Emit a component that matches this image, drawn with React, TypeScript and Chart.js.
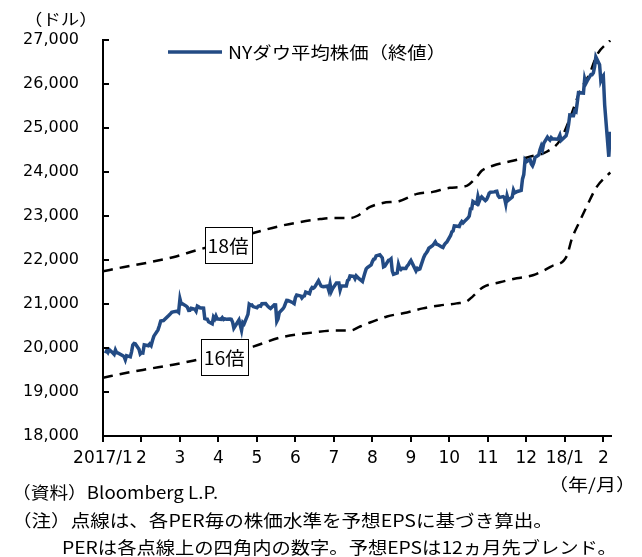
import React, { useEffect, useRef } from "react";
import { Chart, registerables } from "chart.js";

Chart.register(...registerables);

// ---------- data ----------
const monthTicks = ["2017/1", "2", "3", "4", "5", "6", "7", "8", "9", "10", "11", "12", "18/1", "2"];
const yTickValues = [18000, 19000, 20000, 21000, 22000, 23000, 24000, 25000, 26000, 27000];

const dowDates = [
  "2017-01-03","2017-01-04","2017-01-05","2017-01-06","2017-01-09","2017-01-10","2017-01-11","2017-01-12","2017-01-13","2017-01-17",
  "2017-01-18","2017-01-19","2017-01-20","2017-01-23","2017-01-24","2017-01-25","2017-01-26","2017-01-27","2017-01-30","2017-01-31",
  "2017-02-01","2017-02-02","2017-02-03","2017-02-06","2017-02-07","2017-02-08","2017-02-09","2017-02-10","2017-02-13","2017-02-14",
  "2017-02-15","2017-02-16","2017-02-17","2017-02-21","2017-02-22","2017-02-23","2017-02-24","2017-02-27","2017-02-28",
  "2017-03-01","2017-03-02","2017-03-03","2017-03-06","2017-03-07","2017-03-08","2017-03-09","2017-03-10","2017-03-13","2017-03-14",
  "2017-03-15","2017-03-16","2017-03-17","2017-03-20","2017-03-21","2017-03-22","2017-03-23","2017-03-24","2017-03-27","2017-03-28",
  "2017-03-29","2017-03-30","2017-03-31",
  "2017-04-03","2017-04-04","2017-04-05","2017-04-06","2017-04-07","2017-04-10","2017-04-11","2017-04-12","2017-04-13","2017-04-17",
  "2017-04-18","2017-04-19","2017-04-20","2017-04-21","2017-04-24","2017-04-25","2017-04-26","2017-04-27","2017-04-28",
  "2017-05-01","2017-05-02","2017-05-03","2017-05-04","2017-05-05","2017-05-08","2017-05-09","2017-05-10","2017-05-11","2017-05-12",
  "2017-05-15","2017-05-16","2017-05-17","2017-05-18","2017-05-19","2017-05-22","2017-05-23","2017-05-24","2017-05-25","2017-05-26",
  "2017-05-30","2017-05-31",
  "2017-06-01","2017-06-02","2017-06-05","2017-06-06","2017-06-07","2017-06-08","2017-06-09","2017-06-12","2017-06-13","2017-06-14",
  "2017-06-15","2017-06-16","2017-06-19","2017-06-20","2017-06-21","2017-06-22","2017-06-23","2017-06-26","2017-06-27","2017-06-28",
  "2017-06-29","2017-06-30",
  "2017-07-03","2017-07-05","2017-07-06","2017-07-07","2017-07-10","2017-07-11","2017-07-12","2017-07-13","2017-07-14","2017-07-17",
  "2017-07-18","2017-07-19","2017-07-20","2017-07-21","2017-07-24","2017-07-25","2017-07-26","2017-07-27","2017-07-28","2017-07-31",
  "2017-08-01","2017-08-02","2017-08-03","2017-08-04","2017-08-07","2017-08-08","2017-08-09","2017-08-10","2017-08-11","2017-08-14",
  "2017-08-15","2017-08-16","2017-08-17","2017-08-18","2017-08-21","2017-08-22","2017-08-23","2017-08-24","2017-08-25","2017-08-28",
  "2017-08-29","2017-08-30","2017-08-31",
  "2017-09-01","2017-09-05","2017-09-06","2017-09-07","2017-09-08","2017-09-11","2017-09-12","2017-09-13","2017-09-14","2017-09-15",
  "2017-09-18","2017-09-19","2017-09-20","2017-09-21","2017-09-22","2017-09-25","2017-09-26","2017-09-27","2017-09-28","2017-09-29",
  "2017-10-02","2017-10-03","2017-10-04","2017-10-05","2017-10-06","2017-10-09","2017-10-10","2017-10-11","2017-10-12","2017-10-13",
  "2017-10-16","2017-10-17","2017-10-18","2017-10-19","2017-10-20","2017-10-23","2017-10-24","2017-10-25","2017-10-26","2017-10-27",
  "2017-10-30","2017-10-31",
  "2017-11-01","2017-11-02","2017-11-03","2017-11-06","2017-11-07","2017-11-08","2017-11-09","2017-11-10","2017-11-13","2017-11-14",
  "2017-11-15","2017-11-16","2017-11-17","2017-11-20","2017-11-21","2017-11-22","2017-11-24","2017-11-27","2017-11-28","2017-11-29",
  "2017-11-30",
  "2017-12-01","2017-12-04","2017-12-05","2017-12-06","2017-12-07","2017-12-08","2017-12-11","2017-12-12","2017-12-13","2017-12-14",
  "2017-12-15","2017-12-18","2017-12-19","2017-12-20","2017-12-21","2017-12-22","2017-12-26","2017-12-27","2017-12-28","2017-12-29",
  "2018-01-02","2018-01-03","2018-01-04","2018-01-05","2018-01-08","2018-01-09","2018-01-10","2018-01-11","2018-01-12","2018-01-16",
  "2018-01-17","2018-01-18","2018-01-19","2018-01-22","2018-01-23","2018-01-24","2018-01-25","2018-01-26","2018-01-29","2018-01-30",
  "2018-01-31",
  "2018-02-01","2018-02-02","2018-02-05","2018-02-06",
];

const dowValues = [
  19882,19942,19899,19964,19887,19856,19954,19891,19886,19827,
  19805,19732,19827,19800,19913,20069,20101,20094,19971,19864,
  19891,19885,20071,20052,20090,20054,20172,20269,20412,20504,
  20612,20620,20624,20743,20776,20810,20822,20837,20812,
  21116,21003,21006,20954,20925,20856,20858,20903,20881,20837,
  20950,20935,20915,20906,20668,20661,20657,20597,20551,20702,
  20659,20728,20663,
  20650,20689,20648,20663,20656,20658,20651,20592,20453,20637,
  20523,20404,20579,20548,20764,20996,20975,20981,20941,
  20913,20950,20958,20951,21007,21012,20976,20943,20919,20897,
  20982,20980,20607,20663,20805,20895,20938,21012,21083,21080,
  21029,21009,
  21144,21206,21184,21136,21174,21183,21272,21236,21328,21375,
  21360,21384,21529,21467,21410,21397,21395,21410,21311,21455,
  21287,21350,
  21479,21478,21320,21414,21409,21409,21532,21553,21638,21630,
  21575,21641,21612,21580,21513,21613,21711,21797,21830,21891,
  21964,22016,22026,22093,22118,22085,22049,21844,21858,21994,
  21999,22025,21751,21675,21704,21900,21812,21783,21814,21808,
  21865,21892,21948,
  21988,21753,21808,21785,21798,22057,22119,22158,22203,22268,
  22331,22371,22413,22359,22350,22296,22284,22341,22381,22405,
  22558,22642,22662,22775,22774,22761,22831,22873,22841,22872,
  22957,22997,23158,23163,23329,23274,23442,23329,23401,23434,
  23349,23377,
  23435,23516,23539,23548,23557,23563,23462,23422,23440,23409,
  23271,23458,23358,23430,23591,23526,23558,23581,23837,23941,
  24272,
  24232,24290,24181,24141,24211,24329,24386,24505,24585,24509,
  24652,24792,24755,24727,24782,24754,24746,24774,24838,24719,
  24824,24923,25075,25296,25283,25386,25369,25575,25803,25793,
  26116,26018,26072,26215,26211,26252,26393,26617,26439,26077,
  26149,
  26187,25521,24346,24913,
];

// PER 18x line (month position from 2017/1, index level)
const pe18Months = [0, 0.52, 1.22, 1.82, 2.44, 3.25, 4.0, 4.6, 5.12, 5.64, 5.97, 6.42, 6.6, 6.94, 7.27, 7.71, 8.16, 8.57, 9.01, 9.45, 9.71, 9.84, 10.13, 10.65, 11.09, 11.53, 11.87, 12.13, 12.39, 12.65, 12.83, 13.18];
const pe18Values = [21744, 21836, 21950, 22064, 22224, 22420, 22635, 22772, 22863, 22930, 22954, 22954, 23000, 23205, 23297, 23342, 23502, 23548, 23640, 23685, 23890, 24027, 24141, 24256, 24347, 24461, 24712, 25214, 25831, 26242, 26653, 26990];

// PER 16x line
const pe16Months = [0, 0.62, 1.22, 1.82, 2.34, 3.17, 3.9, 4.6, 5.45, 5.97, 6.42, 6.68, 6.94, 7.38, 7.9, 8.31, 8.75, 9.19, 9.45, 9.61, 9.87, 10.31, 10.75, 11.17, 11.66, 12.05, 12.18, 12.39, 12.6, 12.83, 13.18];
const pe16Values = [19324, 19438, 19530, 19621, 19712, 19880, 20032, 20237, 20352, 20397, 20397, 20488, 20580, 20717, 20808, 20900, 20968, 21014, 21059, 21174, 21379, 21493, 21584, 21653, 21858, 22087, 22475, 22886, 23274, 23662, 23990];

const peLabels = ["18倍", "16倍"];
const peLabelMonths = [3.25, 3.15];
const peLabelValues = [22330, 19800];

const legendLabel = "NYダウ平均株価（終値）";

// ---------- helpers ----------
function monthPos(d: string): number {
  const [y, m, dd] = d.split("-").map(Number);
  const days = new Date(y, m, 0).getDate();
  return (y - 2017) * 12 + (m - 1) + (dd - 1) / days;
}

const JP = '"Noto Sans CJK JP", "Noto Sans CJK SC", sans-serif';
const DOW_COLOR = "#234b84";

const overlayPlugin = {
  id: "overlay",
  afterDatasetsDraw(chart: any) {
    const { ctx, scales } = chart;
    const xs = scales.x;
    const ys = scales.y;
    ctx.save();
    ctx.font = `18px ${JP}`;
    for (let i = 0; i < peLabels.length; i++) {
      const cx = xs.getPixelForValue(peLabelMonths[i]);
      const cy = ys.getPixelForValue(peLabelValues[i]);
      const tw = ctx.measureText(peLabels[i]).width * 1.08;
      const w = Math.round(tw + 6);
      const h = 36;
      const lx = Math.round(cx - w / 2) + 0.5;
      const ty = Math.round(cy - h / 2) + 0.5;
      ctx.fillStyle = "#fff";
      ctx.fillRect(lx, ty, w, h);
      ctx.strokeStyle = "#000";
      ctx.lineWidth = 1;
      ctx.strokeRect(lx, ty, w, h);
      ctx.fillStyle = "#000";
      ctx.textBaseline = "middle";
      ctx.textAlign = "left";
      ctx.save();
      ctx.translate(cx - tw / 2, cy + 1);
      ctx.scale(1.08, 1);
      ctx.fillText(peLabels[i], 0, 0);
      ctx.restore();
    }
    ctx.restore();
  },
  afterDraw(chart: any) {
    const { ctx, chartArea, scales } = chart;
    const ys = scales.y;
    ctx.save();
    ctx.strokeStyle = "#000";
    ctx.lineWidth = 2;
    for (const t of ys.ticks) {
      const py = Math.round(ys.getPixelForValue(t.value));
      ctx.beginPath();
      ctx.moveTo(chartArea.left, py);
      ctx.lineTo(chartArea.left + 6, py);
      ctx.stroke();
    }
    const ds = chart.data.datasets[0];
    const lx = chartArea.left + 65;
    const ly = chartArea.top + 12;
    ctx.strokeStyle = ds.borderColor;
    ctx.lineWidth = 3.5;
    ctx.beginPath();
    ctx.moveTo(lx, ly);
    ctx.lineTo(lx + 54, ly);
    ctx.stroke();
    ctx.fillStyle = "#000";
    ctx.font = `17px ${JP}`;
    ctx.textBaseline = "middle";
    ctx.textAlign = "left";
    ctx.translate(lx + 60, ly + 1);
    ctx.scale(1.14, 1);
    ctx.fillText(ds.label, 0, 0);
    ctx.restore();
  },
};

export default function App() {
  const ref = useRef<HTMLCanvasElement>(null);

  useEffect(() => {
    const dowData = dowDates.map((d, i) => ({ x: monthPos(d), y: dowValues[i] }));
    const pe18Data = pe18Months.map((m, i) => ({ x: m, y: pe18Values[i] }));
    const pe16Data = pe16Months.map((m, i) => ({ x: m, y: pe16Values[i] }));

    const chart = new Chart(ref.current as HTMLCanvasElement, {
      type: "line",
      data: {
        datasets: [
          {
            label: legendLabel,
            data: dowData,
            borderColor: DOW_COLOR,
            borderWidth: 3.5,
            pointRadius: 0,
            tension: 0,
          },
          {
            label: "PER18倍",
            data: pe18Data,
            borderColor: "#000",
            borderWidth: 2.5,
            borderDash: [10, 7],
            pointRadius: 0,
            cubicInterpolationMode: "monotone",
          },
          {
            label: "PER16倍",
            data: pe16Data,
            borderColor: "#000",
            borderWidth: 2.5,
            borderDash: [10, 7],
            pointRadius: 0,
            cubicInterpolationMode: "monotone",
          },
        ],
      } as any,
      options: {
        responsive: false,
        animation: false,
        devicePixelRatio: 1,
        layout: { padding: { top: 40, right: 31, bottom: 0, left: 0 } },
        plugins: { legend: { display: false }, tooltip: { enabled: false } },
        scales: {
          x: {
            type: "linear",
            min: 0,
            max: 13.2,
            afterBuildTicks: (s: any) => {
              s.ticks = monthTicks.map((_, i) => ({ value: i }));
            },
            afterFit: (s: any) => {
              s.height = 121;
            },
            ticks: {
              autoSkip: false,
              maxRotation: 0,
              minRotation: 0,
              padding: 6,
              color: "#000",
              font: { family: "DejaVu Sans", size: 17 },
              callback: (_v: any, i: number) => monthTicks[i],
            },
            grid: { display: true, drawOnChartArea: false, drawTicks: true, tickLength: 6, color: "#000", lineWidth: 2 },
            border: { display: true, color: "#000", width: 2 },
          },
          y: {
            min: 18000,
            max: 27000,
            afterBuildTicks: (s: any) => {
              s.ticks = yTickValues.map((v) => ({ value: v }));
            },
            afterFit: (s: any) => {
              s.width = 103;
            },
            ticks: {
              padding: 24,
              color: "#000",
              font: { family: "DejaVu Sans", size: 16 },
              callback: (v: any) => Number(v).toLocaleString("en-US"),
            },
            grid: { display: false, drawTicks: false },
            border: { display: true, color: "#000", width: 2 },
          },
        },
      } as any,
      plugins: [overlayPlugin],
    });
    return () => chart.destroy();
  }, []);

  const txt: React.CSSProperties = {
    position: "absolute",
    fontFamily: JP,
    fontSize: 17,
    lineHeight: "20px",
    whiteSpace: "nowrap",
    color: "#000",
    transformOrigin: "left center",
    transform: "scaleX(1.1)",
  };

  return (
    <div style={{ position: "absolute", left: 0, top: 0, width: 642, height: 557, background: "#fff", overflow: "hidden" }}>
      <canvas ref={ref} width={642} height={557} style={{ position: "absolute", left: 0, top: 0, width: 642, height: 557 }} />
      <div style={{ ...txt, left: 24, top: 8, fontSize: 16, transform: "scaleX(1.15)" }}>（ドル）</div>
      <div style={{ ...txt, left: 548, top: 474, transform: "scaleX(1.18)" }}>（年/月）</div>
      <div style={{ ...txt, left: 12, top: 482 }}>（資料）Bloomberg L.P.</div>
      <div style={{ ...txt, left: 12, top: 510, transform: "scaleX(1.15)" }}>（注）点線は、各PER毎の株価水準を予想EPSに基づき算出。</div>
      <div style={{ ...txt, left: 62, top: 537, transform: "scaleX(1.135)" }}>PERは各点線上の四角内の数字。予想EPSは12ヵ月先ブレンド。</div>
    </div>
  );
}
